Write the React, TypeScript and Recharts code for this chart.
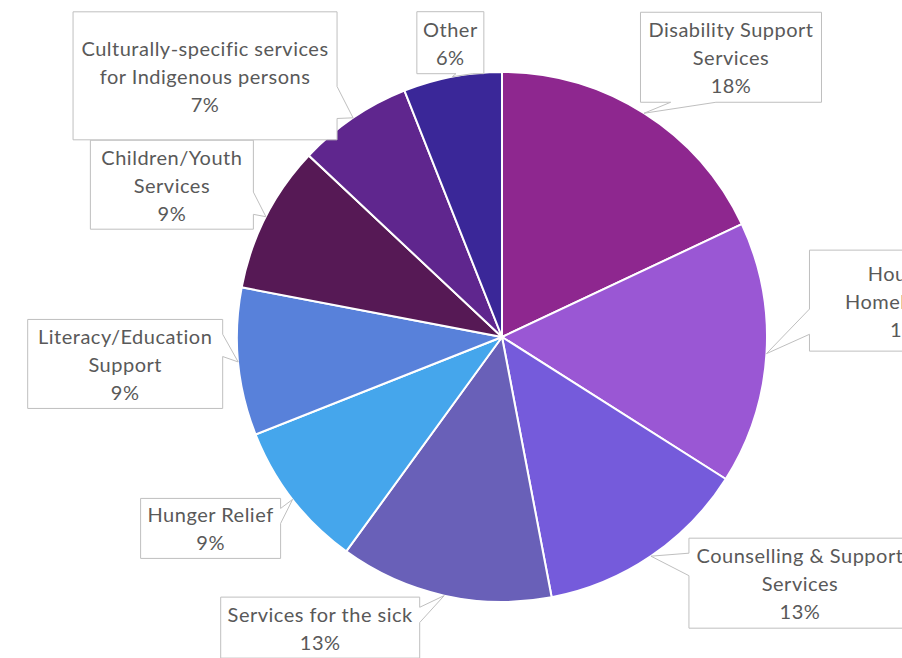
import { PieChart, Pie, Cell } from "recharts";

const categories = [
  "Disability Support Services",
  "Housing/Homelessness",
  "Counselling & Support Services",
  "Services for the sick",
  "Hunger Relief",
  "Literacy/Education Support",
  "Children/Youth Services",
  "Culturally-specific services for Indigenous persons",
  "Other",
];
const shares = [18, 16, 13, 13, 9, 9, 9, 7, 6];
const colors = [
  "#8E278F", "#9A57D4", "#755BDB", "#6960B8", "#45A6EC",
  "#5881DA", "#561955", "#5F268E", "#3A2798",
];

// label callout boxes: offset of box centre from slice anchor, box size, wrapped lines
const callouts: Record<string, { dx: number; dy: number; w: number; h: number; lines: string[] }> = {
  "Disability Support Services": { dx: 87, dy: -56, w: 181, h: 90, lines: ["Disability Support", "Services"] },
  "Housing/Homelessness": { dx: 144, dy: -53, w: 202, h: 101, lines: ["Housing/", "Homelessness"] },
  "Counselling & Support Services": { dx: 149, dy: 27, w: 222, h: 90, lines: ["Counselling & Support", "Services"] },
  "Services for the sick": { dx: -124, dy: 32, w: 199, h: 61, lines: ["Services for the sick"] },
  "Hunger Relief": { dx: -82, dy: 29, w: 140, h: 60, lines: ["Hunger Relief"] },
  "Literacy/Education Support": { dx: -113, dy: 2, w: 195, h: 89, lines: ["Literacy/Education", "Support"] },
  "Children/Youth Services": { dx: -94, dy: -32, w: 163, h: 89, lines: ["Children/Youth", "Services"] },
  "Culturally-specific services for Indigenous persons": { dx: -148, dy: -42, w: 264, h: 128, lines: ["Culturally-specific services", "for Indigenous persons"] },
  Other: { dx: -2, dy: -34, w: 67, h: 62, lines: ["Other"] },
};

const rows = categories.map((name, i) => ({ name, value: shares[i], fill: colors[i] }));

const RAD = Math.PI / 180;

// rectangle with a wedge pointing at (tx, ty), like an Excel callout
function calloutPath(x0: number, y0: number, w: number, h: number, tx: number, ty: number) {
  const cx = x0 + w / 2, cy = y0 + h / 2;
  const dx = tx - cx, dy = ty - cy;
  const x1 = x0 + w, y1 = y0 + h;
  const inside = tx > x0 && tx < x1 && ty > y0 && ty < y1;
  if (inside) return `M${x0},${y0}H${x1}V${y1}H${x0}Z`;
  if (Math.abs(dx) * h > Math.abs(dy) * w) {
    const a = dy < 0 ? y0 + h / 6 : y0 + (7 * h) / 12;
    const b = dy < 0 ? y0 + (5 * h) / 12 : y0 + (5 * h) / 6;
    if (dx > 0) return `M${x0},${y0}H${x1}V${a}L${tx},${ty}L${x1},${b}V${y1}H${x0}Z`;
    return `M${x0},${y0}H${x1}V${y1}H${x0}V${b}L${tx},${ty}L${x0},${a}Z`;
  }
  const a = dx < 0 ? x0 + w / 6 : x0 + (7 * w) / 12;
  const b = dx < 0 ? x0 + (5 * w) / 12 : x0 + (5 * w) / 6;
  if (dy > 0) return `M${x0},${y0}H${x1}V${y1}H${b}L${tx},${ty}L${a},${y1}H${x0}Z`;
  return `M${x0},${y0}H${a}L${tx},${ty}L${b},${y0}H${x1}V${y1}H${x0}Z`;
}

const renderLabel = (props: any) => {
  const { cx, cy, midAngle, outerRadius, percent, name } = props;
  const c = callouts[name];
  if (!c) return null;
  const tx = cx + outerRadius * Math.cos(-midAngle * RAD);
  const ty = cy + outerRadius * Math.sin(-midAngle * RAD);
  const bx = tx + c.dx, by = ty + c.dy;
  const lines = [...c.lines, `${Math.round(percent * 100)}%`];
  return (
    <g>
      <path
        d={calloutPath(bx - c.w / 2, by - c.h / 2, c.w, c.h, tx, ty)}
        fill="#fff" stroke="#BFBFBF" strokeWidth={1}
      />
      {lines.map((ln, i) => (
        <text
          key={i} x={bx} y={by + (i - (lines.length - 1) / 2) * 28}
          textAnchor="middle" dominantBaseline="central"
          fill="#595959" fontSize={20} letterSpacing={0.5}
          fontFamily="Lato, 'Open Sans', sans-serif"
        >
          {ln}
        </text>
      ))}
    </g>
  );
};

export default function App() {
  return (
    <div style={{ position: "fixed", left: 0, top: 0, width: 902, height: 658, overflow: "hidden", background: "#fff" }}>
      <PieChart width={902} height={658} margin={{ top: 0, right: 0, bottom: 0, left: 0 }}>
        <Pie
          data={rows}
          dataKey="value"
          nameKey="name"
          cx={502}
          cy={337}
          outerRadius={265}
          startAngle={90}
          endAngle={-270}
          stroke="#fff"
          strokeWidth={2}
          label={renderLabel}
          labelLine={false}
          isAnimationActive={false}
        >
          {rows.map((r) => (
            <Cell key={r.name} fill={r.fill} />
          ))}
        </Pie>
      </PieChart>
    </div>
  );
}
